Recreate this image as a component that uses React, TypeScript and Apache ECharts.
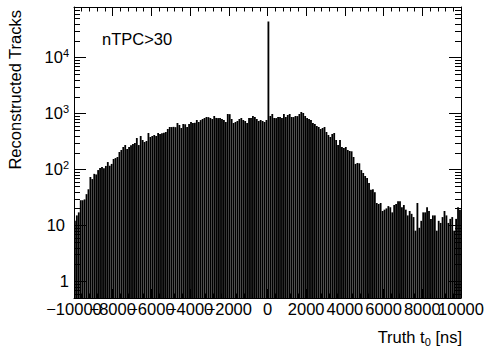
import React, { useEffect, useRef } from 'react';
import * as echarts from 'echarts';

// Histogram: 200 bins of 100 ns from -10000 to 10000 ns
const X_MIN = -10000;
const X_MAX = 10000;
const BIN_WIDTH = 100;
const X_TICK_STEP = 2000;
const X_TICK_LABELS = [-10000, -8000, -6000, -4000, -2000, 0, 2000, 4000, 6000, 8000, 10000];
const Y_MIN = 0.5;
const Y_MAX = 80000;

const COUNTS = [
  12, 15, 17, 28, 28, 29, 36, 44, 73, 67,
  83, 81, 97, 106, 110, 105, 115, 135, 116, 125,
  153, 159, 166, 204, 222, 251, 272, 231, 250, 270,
  284, 296, 363, 272, 395, 335, 308, 321, 446, 379,
  395, 411, 395, 446, 429, 440, 452, 465, 526, 572,
  570, 575, 568, 674, 621, 549, 647, 640, 572, 650,
  702, 674, 680, 763, 702, 760, 795, 828, 863, 858,
  828, 795, 899, 830, 825, 828, 795, 763, 702, 976,
  970, 795, 674, 702, 732, 795, 828, 763, 732, 674,
  828, 830, 899, 863, 795, 732, 763, 732, 702, 763,
  44000, 899, 976, 828, 825, 863, 860, 828, 976, 863,
  937, 976, 863, 860, 899, 895, 976, 1060, 1017, 899,
  828, 795, 763, 674, 647, 596, 572, 526, 549, 572,
  465, 411, 379, 429, 446, 335, 272, 335, 251, 241,
  251, 222, 213, 210, 166, 125, 130, 128, 97, 86,
  76, 70, 57, 43, 44, 39, 25, 24, 25, 18,
  19, 20, 22, 21, 17, 23, 24, 27, 27, 21,
  23, 19, 15, 18, 16, 14, 8, 25, 9, 12,
  17, 17, 21, 18, 13, 15, 15, 8, 12, 11,
  14, 18, 15, 11, 13, 14, 8, 13, 21, 19,
];

const MINOR_MULTIPLIERS = [2, 3, 4, 5, 6, 7, 8, 9];
const DECADES = [0.1, 1, 10, 100, 1000, 10000];

const TITLE_Y = 'Reconstructed Tracks';
const TITLE_X_MAIN = 'Truth t';
const TITLE_X_SUB = '0';
const TITLE_X_UNIT = ' [ns]';
const TAG = 'nTPC>30';

const FONT = "'Liberation Sans', Arial, Helvetica, sans-serif";
const FS = 16.5;

function fmtX(v: number): string {
  return v < 0 ? '\u2212' + Math.abs(v) : String(v);
}
function fmtY(v: number): string {
  const e = Math.round(Math.log10(v));
  if (Math.abs(v - Math.pow(10, e)) > 1e-6 * v) return '';
  if (e === 0) return '{b|1}';
  if (e === 1) return '{t|10}';
  return '{b|10}{s|' + e + '}';
}

export default function App() {
  const ref = useRef<HTMLDivElement>(null);
  useEffect(() => {
    if (!ref.current) return;
    const chart = echarts.init(ref.current, undefined, { renderer: 'svg' });
    const bins = COUNTS.map((c, i) => [X_MIN + i * BIN_WIDTH, X_MIN + (i + 1) * BIN_WIDTH, c]);
    const minor: number[][] = [];
    DECADES.forEach((d) => MINOR_MULTIPLIERS.forEach((m) => {
      const v = d * m;
      if (v > Y_MIN && v < Y_MAX) minor.push([0, v]);
    }));
    const xLabels = X_TICK_LABELS.map((v) => [v, Y_MIN]);
    const axisLineStyle = { lineStyle: { color: '#000', width: 1 } };
    const xCommon = {
      type: 'value' as const,
      min: X_MIN,
      max: X_MAX,
      interval: X_TICK_STEP,
      axisLine: { show: true, onZero: false, ...axisLineStyle },
      axisTick: { show: true, inside: true, length: 9, lineStyle: { color: '#000' } },
      minorTick: { show: true, splitNumber: 5, length: 4.5, lineStyle: { color: '#000' } },
      axisLabel: { show: false },
      splitLine: { show: false },
      minorSplitLine: { show: false },
    };
    const yCommon = {
      type: 'log' as const,
      logBase: 10,
      min: Y_MIN,
      max: Y_MAX,
      axisLine: { show: true, onZero: false, ...axisLineStyle },
      axisTick: { show: true, inside: true, length: 12, lineStyle: { color: '#000' } },
      splitLine: { show: false },
    };
    chart.setOption({
      animation: false,
      backgroundColor: '#fff',
      grid: { left: 74, right: 25, top: 7, bottom: 50, containLabel: false },
      xAxis: [
        { ...xCommon, position: 'bottom' },
        { ...xCommon, position: 'top' },
      ],
      yAxis: [
        {
          ...yCommon,
          position: 'left',
          axisLabel: {
            show: true, margin: 5, color: '#000', fontFamily: FONT,
            showMinLabel: false, showMaxLabel: false, formatter: fmtY,
            rich: {
              b: { fontSize: FS, lineHeight: 18, color: '#000', fontFamily: FONT },
              t: { fontSize: FS, lineHeight: 18, color: '#000', fontFamily: FONT, padding: [0, 4, 0, 0] },
              s: { fontSize: 11, lineHeight: 12, color: '#000', fontFamily: FONT, padding: [0, 0, 8, 0] },
            },
          },
        },
        { ...yCommon, position: 'right', axisLabel: { show: false } },
      ],
      series: [
        {
          type: 'custom',
          xAxisIndex: 0,
          yAxisIndex: 0,
          clip: true,
          z: 1,
          data: bins,
          encode: { x: [0, 1], y: 2 },
          renderItem: (params: any, api: any) => {
            const x0 = api.value(0), x1 = api.value(1), v = api.value(2);
            if (!(v > 0)) return null;
            const p0 = api.coord([x0, v]);
            const p1 = api.coord([x1, v]);
            const cs = params.coordSys;
            const bottom = cs.y + cs.height;
            return {
              type: 'rect',
              shape: { x: p0[0], y: p0[1], width: Math.max(0.5, p1[0] - p0[0] - 0.12), height: bottom - p0[1] },
              style: { fill: '#000', stroke: null },
            };
          },
        },
        {
          type: 'custom',
          xAxisIndex: 0,
          yAxisIndex: 0,
          clip: false,
          silent: true,
          data: minor,
          renderItem: (params: any, api: any) => {
            const p = api.coord([api.value(0), api.value(1)]);
            const cs = params.coordSys;
            const y = Math.round(p[1]) + 0.5;
            const st = { stroke: '#000', lineWidth: 1 };
            return {
              type: 'group',
              children: [
                { type: 'line', shape: { x1: cs.x, y1: y, x2: cs.x + 6, y2: y }, style: st },
                { type: 'line', shape: { x1: cs.x + cs.width - 6, y1: y, x2: cs.x + cs.width, y2: y }, style: st },
              ],
            };
          },
        },
        {
          type: 'custom',
          xAxisIndex: 0,
          yAxisIndex: 0,
          clip: false,
          silent: true,
          data: xLabels,
          renderItem: (params: any, api: any) => {
            const p = api.coord([api.value(0), api.value(1)]);
            const cs = params.coordSys;
            return {
              type: 'text',
              x: p[0],
              y: cs.y + cs.height + 2,
              style: {
                text: fmtX(api.value(0)), font: `${FS}px ${FONT}`, fill: '#000',
                align: 'center', verticalAlign: 'top',
              },
            };
          },
        },
      ],
      graphic: [
        {
          type: 'text', x: 15, y: 10, rotation: Math.PI / 2,
          style: { text: TITLE_Y, font: `${FS}px ${FONT}`, fill: '#000', align: 'right', verticalAlign: 'middle' },
        },
        {
          type: 'text', x: 462, y: 337,
          style: {
            text: `{m|${TITLE_X_MAIN}}{s|${TITLE_X_SUB}}{m|${TITLE_X_UNIT}}`,
            align: 'right', verticalAlign: 'middle',
            rich: {
              m: { fontSize: FS, fontFamily: FONT, fill: '#000', lineHeight: 18 },
              s: { fontSize: 11, fontFamily: FONT, fill: '#000', lineHeight: 12, padding: [10, 0, 0, 0] },
            },
          },
        },
        {
          type: 'text', x: 102, y: 38.5,
          style: { text: TAG, font: `${FS}px ${FONT}`, fill: '#000', align: 'left', verticalAlign: 'middle' },
        },
      ],
    });
    return () => chart.dispose();
  }, []);
  return <div ref={ref} style={{ position: 'fixed', left: 0, top: 0, width: 486, height: 348, background: '#fff' }} />;
}
